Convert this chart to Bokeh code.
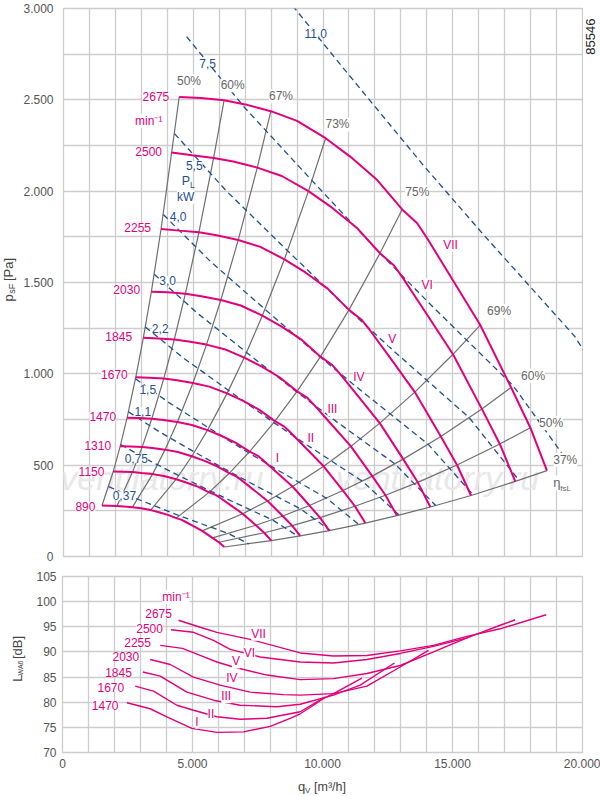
import math
from bokeh.plotting import figure
from bokeh.models import FixedTicker, Label, Range1d, Grid
from bokeh.layouts import column, row
from bokeh.embed import file_html
from bokeh.resources import INLINE
from bokeh.core.properties import value

# ---------------- data: fan curves (q_V [m3/h], p_sF [Pa]) ----------------
speeds = [2675, 2500, 2255, 2030, 1845, 1670, 1470, 1310, 1150, 890]

q_2675 = [4460, 5300, 6190, 7000, 7990, 9000, 10100, 11060, 12090, 13050, 13630, 14000, 15000, 16060, 17250, 17990, 18630]
p_2675 = [2516, 2510, 2498, 2475, 2438, 2385, 2290, 2188, 2061, 1900, 1824, 1745, 1514, 1267, 925, 705, 470]
q_2500 = [4168, 4953, 5785, 6542, 7467, 8411, 9439, 10336, 11299, 12196, 12738, 13084, 14019, 15009, 16121, 16813, 17411]
p_2500 = [2212, 2196, 2182, 2162, 2129, 2083, 2000, 1911, 1800, 1660, 1593, 1524, 1322, 1107, 808, 616, 411]
q_2255 = [3760, 4468, 5218, 5901, 6735, 7587, 8514, 9323, 10192, 11001, 11490, 11802, 12645, 13538, 14542, 15165, 15705]
p_2255 = [1793, 1784, 1775, 1759, 1733, 1695, 1627, 1555, 1465, 1350, 1296, 1240, 1076, 900, 657, 501, 334]
q_2030 = [3385, 4022, 4697, 5312, 6063, 6830, 7665, 8393, 9175, 9903, 10344, 10624, 11383, 12188, 13091, 13652, 14138]
p_2030 = [1449, 1446, 1439, 1425, 1404, 1374, 1319, 1260, 1187, 1094, 1050, 1005, 872, 730, 533, 406, 271]
q_1845 = [3076, 3656, 4269, 4828, 5511, 6207, 6966, 7628, 8339, 9001, 9401, 9656, 10346, 11077, 11898, 12408, 12849]
p_1845 = [1197, 1194, 1188, 1177, 1160, 1135, 1089, 1041, 980, 904, 868, 830, 720, 603, 440, 335, 224]
q_1670 = [2784, 3309, 3864, 4370, 4988, 5619, 6305, 6905, 7548, 8147, 8509, 8740, 9365, 10026, 10769, 11231, 11631]
p_1670 = [981, 978, 974, 965, 950, 930, 893, 853, 803, 741, 711, 680, 590, 494, 361, 275, 183]
q_1470 = [2451, 2913, 3402, 3847, 4391, 4946, 5550, 6078, 6644, 7171, 7490, 7693, 8243, 8825, 9479, 9886, 10238]
p_1470 = [760, 758, 754, 747, 736, 720, 692, 661, 622, 574, 551, 527, 457, 383, 279, 213, 142]
q_1310 = [2184, 2596, 3031, 3428, 3913, 4407, 4946, 5416, 5921, 6391, 6675, 6856, 7346, 7865, 8448, 8810, 9123]
p_1310 = [603, 602, 599, 594, 585, 572, 549, 525, 494, 456, 437, 418, 363, 304, 222, 169, 113]
q_1150 = [1917, 2279, 2661, 3009, 3435, 3869, 4342, 4755, 5198, 5610, 5860, 6019, 6449, 6904, 7416, 7734, 8009]
p_1150 = [465, 464, 462, 457, 451, 441, 423, 404, 381, 351, 337, 323, 280, 234, 171, 130, 87]
q_890 = [1484, 1763, 2059, 2329, 2658, 2994, 3360, 3680, 4022, 4342, 4535, 4658, 4991, 5343, 5739, 5985, 6198]
p_890 = [279, 278, 277, 274, 270, 264, 254, 242, 228, 210, 202, 193, 168, 140, 102, 78, 52]

curves = [(q_2675, p_2675), (q_2500, p_2500), (q_2255, p_2255), (q_2030, p_2030),
          (q_1845, p_1845), (q_1670, p_1670), (q_1470, p_1470), (q_1310, p_1310),
          (q_1150, p_1150), (q_890, p_890)]

# efficiency lines join the same operating point on every speed curve
eff_idx = [0, 2, 4, 6, 9, 13, 14, 15, 16]
eff_text = ["50%", "60%", "67%", "73%", "75%", "69%", "60%", "50%", "37%"]

# power lines P_L [kW]
power_text = ["0,37", "0,75", "1,1", "1,5", "2,2", "3,0", "4,0", "5,5", "7,5", "11,0"]
power_q = [
    [1740, 2558, 3512, 4474, 5224, 6358, 7139],
    [2202, 3238, 4444, 5662, 6611, 8047, 9036],
    [2502, 3679, 5049, 6433, 7512, 9142, 10266],
    [2774, 4079, 5599, 7133, 8329, 10138, 11384],
    [3152, 4635, 6362, 8105, 9464, 11518, 12934],
    [3495, 5140, 7054, 8987, 10494, 12772, 14342],
    [3847, 5657, 7765, 9892, 11551, 14058, 15786],
    [4278, 6291, 8634, 11000, 12845, 15633, 17554],
    [4744, 6976, 9575, 12197, 14243, 17335, 19466],
    [5390, 7926, 10878, 13859, 16183, 19696, 22117],
]
power_p = [
    [383, 331, 277, 223, 184, 126, 69],
    [613, 530, 443, 358, 294, 201, 111],
    [792, 684, 572, 462, 380, 260, 143],
    [973, 841, 704, 568, 467, 319, 175],
    [1257, 1085, 909, 733, 603, 412, 227],
    [1545, 1334, 1117, 901, 741, 507, 279],
    [1872, 1616, 1353, 1092, 898, 614, 337],
    [2315, 1999, 1674, 1350, 1110, 760, 417],
    [2846, 2458, 2058, 1660, 1365, 934, 513],
    [3675, 3173, 2657, 2143, 1762, 1206, 662],
]

# ---------------- data: sound power L_WA6 [dB] ----------------
roman = ["VII", "VI", "V", "IV", "III", "II", "I"]
Lq_VII = [4462, 5296, 5938, 7219, 9142, 10423, 11708, 12988, 14269, 15554, 16835, 18604]
L_VII = [96.3, 94.9, 93.9, 92.5, 89.8, 89.2, 89.3, 90.2, 91.3, 93.1, 94.6, 97.4]
Lq_VI = [4169, 5038, 5808, 6450, 7604, 9142, 10423, 11708, 12988, 14269, 15554, 16835, 17412]
L_VI = [94.4, 93.9, 92.3, 90.5, 89.0, 88.0, 87.8, 88.5, 89.7, 91.1, 92.8, 95.3, 96.4]
Lq_V = [3758, 4615, 5296, 5938, 6577, 7862, 9142, 10423, 11708, 12988, 14269, 15650]
L_V = [91.3, 90.7, 89.3, 88.0, 87.0, 85.4, 84.5, 84.7, 85.7, 87.3, 90.0, 93.0]
Lq_IV = [3373, 4142, 5038, 6065, 7219, 8500, 9142, 10423, 11708, 12988, 14077]
L_IV = [88.5, 87.5, 85.0, 83.4, 82.0, 81.5, 81.4, 81.7, 83.2, 87.0, 90.3]
Lq_III = [3092, 3758, 4785, 5808, 6835, 8246, 9142, 10423, 11450, 12769]
L_III = [86.0, 85.2, 82.0, 80.4, 79.4, 79.1, 79.6, 81.4, 83.4, 87.8]
Lq_II = [2796, 3500, 4400, 5038, 5938, 6835, 7862, 9142, 9904, 10423, 11515]
L_II = [83.2, 82.2, 79.4, 78.4, 77.1, 76.6, 76.8, 78.1, 80.4, 81.7, 84.8]
Lq_I = [2477, 3373, 4015, 4977, 5938, 6962, 7988, 8758, 9142, 9654, 10104]
L_I = [79.9, 78.7, 77.1, 74.8, 74.0, 74.1, 75.2, 76.8, 77.7, 79.4, 81.0]
noise = [(Lq_VII, L_VII), (Lq_VI, L_VI), (Lq_V, L_V), (Lq_IV, L_IV),
         (Lq_III, L_III), (Lq_II, L_II), (Lq_I, L_I)]

# ---------------- ticks ----------------
q_ticks = list(range(0, 20001, 1000))
q_tick_labels = {0: "0", 5000: "5.000", 10000: "10.000", 15000: "15.000", 20000: "20.000"}
p_ticks = list(range(0, 3001, 250))
p_tick_labels = {0: "0", 500: "500", 1000: "1.000", 1500: "1.500", 2000: "2.000", 2500: "2.500", 3000: "3.000"}
L_ticks = [70, 75, 80, 85, 90, 95, 100, 105]

# ---------------- label anchors (data coordinates) ----------------
top_speed_q = [4077, 3796, 3373, 2950, 2642, 2477, 2027, 1835, 1577, 1231]
top_speed_p = [2516, 2218, 1800, 1459, 1204, 994, 766, 606, 465, 274]
top_roman_q = [14912, 14015, 12669, 11385, 10362, 9527, 8246]
top_roman_p = [1705, 1486, 1189, 985, 806, 648, 538]
eff_lab_q = [4835, 6519, 8381, 10558, 13635, 16785, 18096, 18788, 19335]
eff_lab_p = [2602, 2580, 2520, 2365, 1997, 1344, 990, 730, 529]
power_lab_q = [2346, 2808, 3054, 3246, 3727, 4015, 4419, 5038, 5554, 9719]
power_lab_p = [332, 538, 793, 912, 1249, 1511, 1860, 2139, 2699, 2865]
bot_speed_q = [4208, 3862, 3400, 2950, 2669, 2373, 2154]
bot_speed_L = [97.6, 94.7, 91.8, 89.0, 86.0, 83.0, 79.4]
bot_roman_q = [7538, 7192, 6669, 6515, 6296, 5708, 5169]
bot_roman_L = [93.6, 89.8, 88.1, 84.9, 81.2, 77.6, 76.1]

# ---------------- styles ----------------
FONT = "Liberation Sans"
PINK = "#e3007b"
BLUE = "#1f4f8e"
EFFC = "#6f6f6f"
EFFT = "#666666"
GRIDC = "#cdcdcd"
TICKC = "#555555"
AXT = "#444444"


def style_fig(f):
    f.background_fill_color = "white"
    f.border_fill_color = "white"
    f.outline_line_color = GRIDC
    f.outline_line_width = 1.3


def add_label(f, x, y, text, color, size="12px", align="center", baseline="middle",
              angle=0.0, bg="white", style="normal"):
    lab = Label(x=x, y=y, text=text, text_color=color, text_font=FONT, text_font_size=size,
                text_align=align, text_baseline=baseline, angle=angle,
                text_font_style=style, background_fill_color=bg)
    f.add_layout(lab)


def style_axis(ax, standoff):
    ax.axis_line_color = None
    ax.major_tick_line_color = None
    ax.minor_tick_line_color = None
    ax.major_tick_out = 0
    ax.major_tick_in = 0
    ax.minor_tick_out = 0
    ax.minor_tick_in = 0
    ax.major_label_standoff = standoff
    ax.major_label_text_font = FONT
    ax.major_label_text_font_size = "12px"
    ax.major_label_text_color = TICKC


def strip(w, h, x0, x1, y0, y1):
    """Blank text-only panel whose coordinates are page pixels."""
    s = figure(width=w, height=h, x_range=Range1d(x0, x1), y_range=Range1d(y1, y0),
               x_axis_location=None, y_axis_location=None, output_backend="svg",
               toolbar_location=None, min_border_left=0, min_border_right=0,
               min_border_top=0, min_border_bottom=0)
    s.outline_line_color = None
    s.background_fill_color = "white"
    s.border_fill_color = "white"
    s.xgrid.visible = False
    s.ygrid.visible = False
    return s


# ================= top chart =================
top = figure(width=563, height=565, x_range=Range1d(0, 20000), y_range=Range1d(0, 3000),
             x_axis_location=None, output_backend="svg", toolbar_location=None,
             min_border_left=42, min_border_right=1, min_border_top=8, min_border_bottom=9)
style_fig(top)
top.add_layout(Grid(dimension=0, ticker=FixedTicker(ticks=q_ticks),
                    grid_line_color=GRIDC, grid_line_width=1.3))
yt = FixedTicker(ticks=p_ticks)
top.yaxis.ticker = yt
top.ygrid.ticker = yt
top.ygrid.grid_line_color = GRIDC
top.ygrid.grid_line_width = 1.3
style_axis(top.yaxis[0], 10)
top.yaxis.major_label_overrides = {t: p_tick_labels.get(t, "") for t in p_ticks}

# watermark
top.text(x=[3796, 14412], y=[430, 430], text=["ventilatorry.ru", "ventilatorry.ru"],
         text_font=value(FONT), text_font_size="34px", text_font_style="italic",
         text_color="#e8e8e8", text_align="center", text_baseline="middle")

# efficiency lines
eff_xs = [[c[0][i] for c in curves] for i in eff_idx]
eff_ys = [[c[1][i] for c in curves] for i in eff_idx]
top.multi_line(eff_xs, eff_ys, line_color=EFFC, line_width=1.2)

# power lines
top.multi_line(power_q, power_p, line_color=BLUE, line_width=1.3, line_dash="6 4")

# speed curves
top.multi_line([c[0] for c in curves], [c[1] for c in curves], line_color=PINK, line_width=2.0)

for i, s in enumerate(speeds):
    add_label(top, top_speed_q[i], top_speed_p[i], str(s), PINK, align="right")
add_label(top, 3285, 2386, "min\u207b\u00b9", PINK)
for i, r in enumerate(roman):
    add_label(top, top_roman_q[i], top_roman_p[i], r, PINK)
for i, t in enumerate(eff_text):
    add_label(top, eff_lab_q[i], eff_lab_p[i], t, EFFT)
for i, t in enumerate(power_text):
    add_label(top, power_lab_q[i], power_lab_p[i], t, BLUE)
add_label(top, 4719, 2058, "P", BLUE, size="12.5px")
add_label(top, 4962, 2034, "L", BLUE, size="8.5px", bg=None)
add_label(top, 4708, 1969, "kW", BLUE)
add_label(top, 18877, 403, "\u03b7", EFFT, size="13px", align="left")
add_label(top, 19142, 374, "fsL", EFFT, size="8px", align="left", bg=None)

# left title panel (page pixel coordinates)
ylab1 = strip(20, 565, 0, 20, 0, 565)
add_label(ylab1, 8, 302, "p", AXT, size="13px", align="left", angle=math.pi / 2, bg=None)
add_label(ylab1, 11.5, 294, "sF", AXT, size="9px", align="left", angle=math.pi / 2, bg=None)
add_label(ylab1, 8, 281, "[Pa]", AXT, size="13px", align="left", angle=math.pi / 2, bg=None)

# right panel with drawing number
rnum = strip(17, 565, 583, 600, 0, 565)
add_label(rnum, 590, 29, "85546", "#222222", size="13px", angle=math.pi / 2, bg=None)

# ================= bottom chart =================
bot = figure(width=574, height=209, x_range=Range1d(0, 20000), y_range=Range1d(70, 105),
             output_backend="svg", toolbar_location=None,
             min_border_left=36, min_border_right=18, min_border_top=11, min_border_bottom=22)
style_fig(bot)
xt2 = FixedTicker(ticks=q_ticks)
bot.xaxis.ticker = xt2
bot.xgrid.ticker = xt2
yt2 = FixedTicker(ticks=L_ticks)
bot.yaxis.ticker = yt2
bot.ygrid.ticker = yt2
for g in (bot.xgrid[0], bot.ygrid[0]):
    g.grid_line_color = GRIDC
    g.grid_line_width = 1.3
style_axis(bot.xaxis[0], 6)
style_axis(bot.yaxis[0], 6)
bot.xaxis.major_label_overrides = {t: q_tick_labels.get(t, "") for t in q_ticks}

bot.multi_line([n[0] for n in noise], [n[1] for n in noise], line_color=PINK, line_width=1.4)

for i in range(7):
    add_label(bot, bot_speed_q[i], bot_speed_L[i], str(speeds[i]), PINK, align="right")
add_label(bot, 4365, 100.9, "min\u207b\u00b9", PINK)
for i, r in enumerate(roman):
    add_label(bot, bot_roman_q[i], bot_roman_L[i], r, PINK)

ylab2 = strip(26, 209, 0, 26, 565, 774)
add_label(ylab2, 16.5, 690, "L", AXT, size="13px", align="left", angle=math.pi / 2, bg=None)
add_label(ylab2, 19.5, 682.5, "WA6", AXT, size="7px", align="left", angle=math.pi / 2, bg=None)
add_label(ylab2, 16.5, 663, "[dB]", AXT, size="13px", align="left", angle=math.pi / 2, bg=None)

xlab = strip(600, 22, 0, 600, 774, 796)
add_label(xlab, 297.5, 786, "q", AXT, size="13px", align="left", bg=None)
add_label(xlab, 304.5, 789.5, "V", AXT, size="8px", align="left", bg=None)
add_label(xlab, 313.5, 786, "[m\u00b3/h]", AXT, size="12.5px", align="left", bg=None)

layout = column(row(ylab1, top, rnum), row(ylab2, bot), xlab)
open("out.html", "w").write(file_html(layout, INLINE))
